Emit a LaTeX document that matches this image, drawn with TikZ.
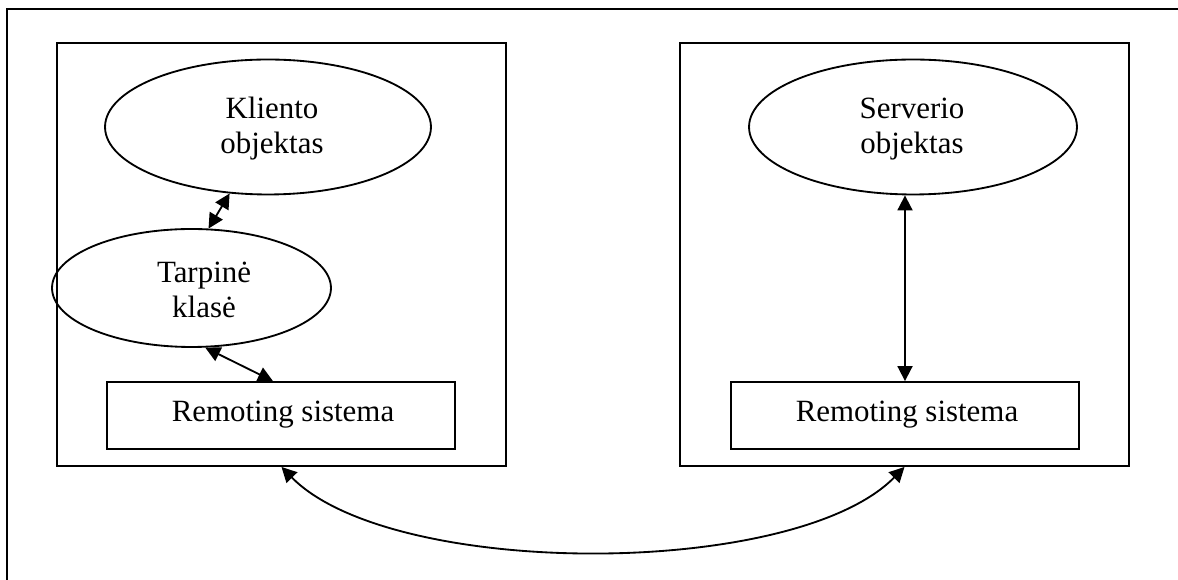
\documentclass[tikz,border=0pt]{standalone}
\usepackage{fontspec}
\setmainfont{Liberation Serif}
\usetikzlibrary{shapes.geometric,arrows.meta,calc}
\begin{document}
\begin{tikzpicture}[x=0.02cm,y=-0.02cm,
  frame/.style={draw,line width=1.15pt},
  obj/.style={draw,ellipse,line width=1.05pt,inner sep=0pt},
  sysbox/.style={draw,rectangle,line width=1.05pt,inner sep=0pt},
  lbl/.style={align=center,inner sep=0pt,font=\fontsize{17.6}{19.9}\selectfont},
  link/.style={line width=1.05pt,{Triangle[length=0.3cm,width=0.3cm]}-{Triangle[length=0.3cm,width=0.3cm]}}]
\useasboundingbox (0,0) rectangle (1178,580);
% outer frame (runs off the right and bottom edges)
\draw[frame] (1178,9) -- (7,9) -- (7,580);
% client and server sides
\node[frame,rectangle,minimum width=8.98cm,minimum height=8.46cm,inner sep=0pt] (client) at (281.5,254.5) {};
\node[frame,rectangle,minimum width=8.98cm,minimum height=8.46cm,inner sep=0pt] (server) at (904.5,254.5) {};
% objects
\node[obj,minimum width=6.52cm,minimum height=2.7cm] (kl) at (268,127) {};
\node[obj,minimum width=5.58cm,minimum height=2.36cm] (tp) at (191.5,288) {};
\node[obj,minimum width=6.56cm,minimum height=2.7cm] (sv) at (913,127) {};
\node[sysbox,minimum width=6.96cm,minimum height=1.34cm] (rsl) at (281,415.5) {};
\node[sysbox,minimum width=6.96cm,minimum height=1.34cm] (rsr) at (905,415.5) {};
% texts
\node[lbl] (tkl) at (272,129) {Kliento\\objektas};
\node[lbl] (ttp) at (204,289.5) {Tarpinė\\klasė};
\node[lbl] (tsv) at (912,129) {Serverio\\objektas};
\node[lbl] (trl) at (283,415) {Remoting sistema};
\node[lbl] (trr) at (907,415) {Remoting sistema};
% connectors
\draw[link] (kl.240) -- (tp.74);
\draw[link] (tp.283) -- ($(rsl.north west)!0.477!(rsl.north east)$);
\draw[link] (rsr.north |- sv.south) -- (rsr.north);
\draw[link] (client.south) .. controls ($(client.south)+(110,112)$) and ($(server.south)+(-110,112)$) .. (server.south);
\end{tikzpicture}
\end{document}
